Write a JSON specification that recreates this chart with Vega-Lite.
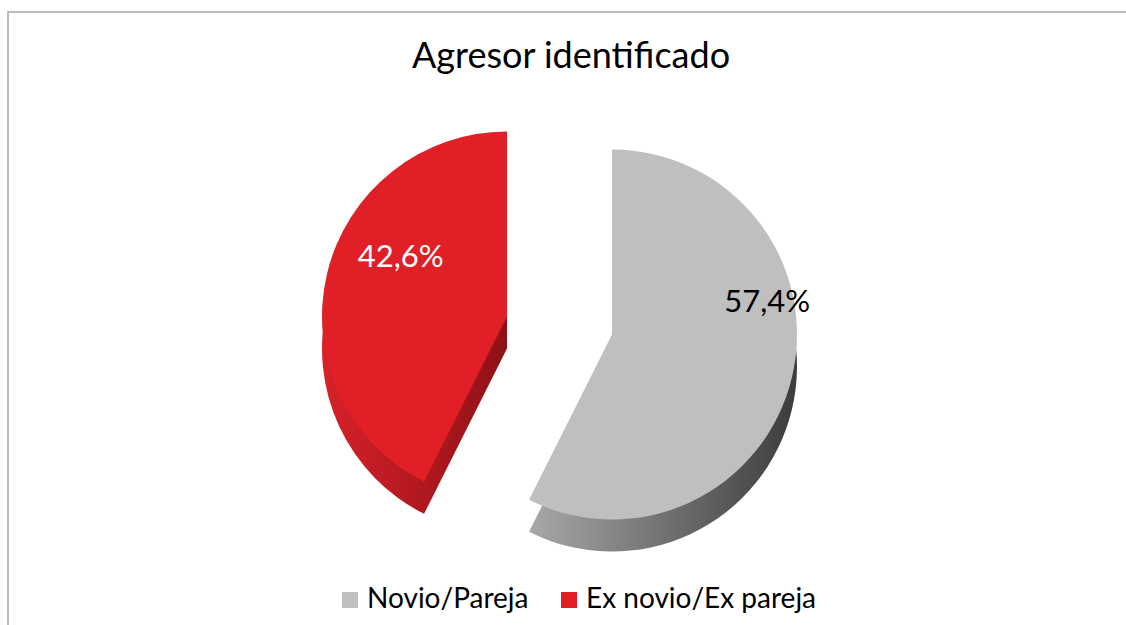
{
  "$schema": "https://vega.github.io/schema/vega-lite/v6.json",
  "autosize": "none",
  "width": 1126,
  "height": 625,
  "padding": {"left": 8, "top": 12, "right": 0, "bottom": 0},
  "background": "white",
  "view": {"stroke": "#A6A6A6", "strokeWidth": 1.5, "fill": null},
  "title": {"text": "Agresor identificado", "offset": -64, "fontSize": 36, "font": "Lato", "fontWeight": "normal", "color": "#000000", "anchor": "middle", "frame": "bounds"},
  "data": {"values": [
    {"agresor": "Novio/Pareja", "pct": 57.4},
    {"agresor": "Ex novio/Ex pareja", "pct": 42.6}
  ]},
  "transform": [
    {"window": [{"op": "sum", "field": "pct", "as": "cum"}], "sort": [{"field": "pct", "order": "descending"}]},
    {"calculate": "datum.cum - datum.pct", "as": "start"},
    {"calculate": "datum.start + datum.pct / 2", "as": "mid"},
    {"calculate": "replace(format(datum.pct, '.1f'), '.', ',') + '%'", "as": "label"}
  ],
  "layer": [
    {
      "transform": [{"filter": "datum.agresor === 'Novio/Pareja'"}],
      "mark": {"type": "arc", "outerRadius": 185, "xOffset": 41, "yOffset": 42, "color": {"gradient": "linear", "x1": 0, "y1": 0, "x2": 1, "y2": 0, "stops": [{"offset": 0, "color": "#a8a8a8"}, {"offset": 1, "color": "#3c3c3c"}]}},
      "encoding": {
        "theta": {"field": "start", "type": "quantitative", "stack": null, "scale": {"domain": [0, 100]}},
        "theta2": {"field": "cum"}
      }
    },
    {
      "transform": [{"filter": "datum.agresor === 'Ex novio/Ex pareja'"}],
      "mark": {"type": "arc", "outerRadius": 185, "xOffset": -64, "yOffset": 24, "color": {"gradient": "linear", "x1": 0, "y1": 0, "x2": 1, "y2": 0, "stops": [{"offset": 0, "color": "#d82129"}, {"offset": 1, "color": "#8e1116"}]}},
      "encoding": {
        "theta": {"field": "start", "type": "quantitative", "stack": null, "scale": {"domain": [0, 100]}},
        "theta2": {"field": "cum"}
      }
    },
    {
      "transform": [{"filter": "datum.agresor === 'Novio/Pareja'"}],
      "mark": {"type": "arc", "outerRadius": 185, "xOffset": 41, "yOffset": 10},
      "encoding": {
        "theta": {"field": "start", "type": "quantitative", "stack": null, "scale": {"domain": [0, 100]}},
        "theta2": {"field": "cum"},
        "color": {"field": "agresor", "type": "nominal", "scale": {"domain": ["Novio/Pareja", "Ex novio/Ex pareja"], "range": ["#BFBFBF", "#E01F26"]},
          "legend": {"title": null, "orient": "none", "legendX": 328, "legendY": 574, "direction": "horizontal", "symbolType": "square", "symbolSize": 256, "symbolStrokeWidth": 0, "labelFont": "Lato", "labelFontSize": 28, "labelColor": "#000000", "labelOffset": 3, "labelLimit": 400, "columnPadding": 26, "symbolOpacity": 1}}
      }
    },
    {
      "transform": [{"filter": "datum.agresor === 'Ex novio/Ex pareja'"}],
      "mark": {"type": "arc", "outerRadius": 185, "xOffset": -64, "yOffset": -8},
      "encoding": {
        "theta": {"field": "start", "type": "quantitative", "stack": null, "scale": {"domain": [0, 100]}},
        "theta2": {"field": "cum"},
        "color": {"field": "agresor", "type": "nominal"}
      }
    },
    {
      "transform": [{"filter": "datum.agresor === 'Novio/Pareja'"}],
      "mark": {"type": "text", "radius": 140, "xOffset": 60, "yOffset": -54, "font": "Lato", "fontSize": 31, "color": "#000000"},
      "encoding": {
        "theta": {"field": "mid", "type": "quantitative", "stack": null, "scale": {"domain": [0, 100]}},
        "text": {"field": "label"}
      }
    },
    {
      "transform": [{"filter": "datum.agresor === 'Ex novio/Ex pareja'"}],
      "mark": {"type": "text", "radius": 140, "xOffset": -34, "yOffset": -34, "font": "Lato", "fontSize": 31, "color": "#ffffff"},
      "encoding": {
        "theta": {"field": "mid", "type": "quantitative", "stack": null, "scale": {"domain": [0, 100]}},
        "text": {"field": "label"}
      }
    }
  ],
  "config": {"view": {"stroke": "#A6A6A6", "strokeWidth": 1.5}}
}
